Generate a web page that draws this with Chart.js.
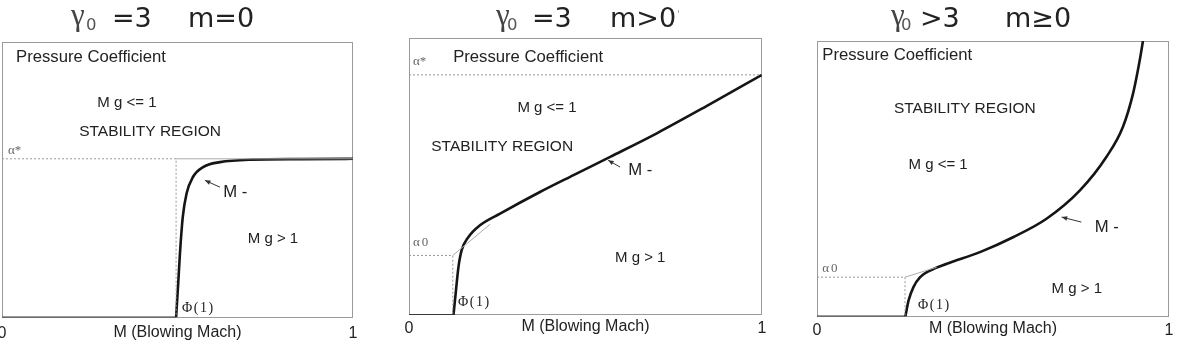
<!DOCTYPE html>
<html><head><meta charset="utf-8">
<script src="https://cdn.jsdelivr.net/npm/chart.js@4.4.1/dist/chart.umd.min.js"></script>
<style>
html,body{margin:0;padding:0;background:#fff;overflow:hidden;width:1179px;height:345px;position:relative}
canvas{position:absolute;top:0;display:block}
</style></head><body>
<canvas id="c1" width="400" height="345" style="left:-18px"></canvas>
<canvas id="c2" width="400" height="345" style="left:389px"></canvas>
<canvas id="c3" width="382" height="345" style="left:797px"></canvas>
<script>
// ---------- data ----------
const xTickValues = [0, 1];
const xTickLabels = ['0', '1'];
const xAxisTitle = 'M (Blowing Mach)';

// Panel 1 : gamma0 = 3, m = 0
const p1Title = ['γ', '0', '=3', 'm=0'];
const p1Texts = ['Pressure Coefficient', 'M g <= 1', 'STABILITY REGION', 'α*', 'M -', 'M g > 1', 'Φ(1)'];
const p1FlatX = [0, 0.496];
const p1FlatY = [0, 0];
const p1CurveX = [0.496, 0.502, 0.507, 0.515, 0.526, 0.544, 0.573, 0.621, 0.707, 0.85, 1.0];
const p1CurveY = [0, 0.124, 0.233, 0.364, 0.451, 0.510, 0.546, 0.564, 0.573, 0.575, 0.576];
const p1AlphaStar = 0.576;
const p1Phi = 0.496;

// Panel 2 : gamma0 = 3, m > 0
const p2Title = ['γ', '0', '=3', 'm>0', "'"];
const p2Texts = ['Pressure Coefficient', 'M g <= 1', 'STABILITY REGION', 'α*', 'M -', 'M g > 1', 'Φ(1)', 'α0'];
const p2FlatX = [0, 0.126];
const p2FlatY = [0, 0];
const p2CurveX = [0.126, 0.133, 0.140, 0.149, 0.168, 0.201, 0.258, 0.371, 0.466, 0.570, 0.702, 0.844, 1.0];
const p2CurveY = [0, 0.088, 0.172, 0.233, 0.281, 0.324, 0.366, 0.444, 0.505, 0.571, 0.656, 0.755, 0.867];
const p2AlphaStar = 0.867;
const p2Alpha0 = 0.215;
const p2Phi = 0.124;
const p2AsymX = [0.124, 0.23];
const p2AsymY = [0.215, 0.328];

// Panel 3 : gamma0 > 3, m >= 0
const p3Title = ['γ', '0', '>3', 'm≥0'];
const p3Texts = ['Pressure Coefficient', 'M g <= 1', 'STABILITY REGION', 'M -', 'M g > 1', 'Φ(1)', 'α0'];
const p3FlatX = [0, 0.251];
const p3FlatY = [0, 0];
const p3CurveX = [0.251, 0.260, 0.274, 0.293, 0.321, 0.369, 0.463, 0.557, 0.652, 0.747, 0.822, 0.869, 0.898, 0.917, 0.926];
const p3CurveY = [0, 0.058, 0.107, 0.143, 0.167, 0.192, 0.234, 0.288, 0.355, 0.458, 0.579, 0.688, 0.810, 0.931, 1.0];
const p3Alpha0 = 0.143;
const p3Phi = 0.25;
const p3AsymX = [0.25, 0.34];
const p3AsymY = [0.143, 0.179];

// ---------- styles / layout ----------
const SANS = '"Liberation Sans", Arial, sans-serif';
const SERIF = '"Liberation Serif", "Times New Roman", serif';
const DJ = '"DejaVu Sans", sans-serif';
const F_MAIN = '16.7px ' + SANS;
const F_STAB = '15.5px ' + SANS;
const F_MG = '15px ' + SANS;
const F_GREEK = '13px ' + SERIF;
const F_PHI = '14px ' + SERIF;

function titleLayout(pageLeft, gx, sx, ax, bx, base) {
  return [
    {x: gx - pageLeft, y: base - 2, font: '31px ' + SERIF, color: '#444'},
    {x: sx - pageLeft, y: base + 3, font: '16.5px ' + DJ, color: '#555'},
    {x: ax - pageLeft, y: base, font: '27px ' + DJ, color: '#222'},
    {x: bx - pageLeft, y: base, font: '27px ' + DJ, color: '#222'},
    {x: bx + 67 - pageLeft, y: base - 9, font: '10px ' + DJ, color: '#999'}
  ];
}

const layouts = {
  c1: {
    padding: {left: 20, right: 29, top: 42, bottom: 2.8}, tickPad: 6,
    title: titleLayout(-18, 71, 86, 112, 188, 27),
    texts: [
      {x: 0.040, y: 0.945, align: 'left', font: F_MAIN},
      {x: 0.356, y: 0.778, align: 'center', font: F_MG},
      {x: 0.422, y: 0.673, align: 'center', font: F_STAB},
      {x: 0.017, y: 0.607, align: 'left', font: F_GREEK, color: '#666'},
      {x: 0.630, y: 0.455, align: 'left', font: F_MAIN},
      {x: 0.772, y: 0.287, align: 'center', font: F_MG},
      {x: 0.513, y: 0.033, align: 'left', font: F_PHI, spacing: 1.5}
    ],
    arrow: {x1: 0.621, y1: 0.473, x2: 0.578, y2: 0.498}
  },
  c2: {
    padding: {left: 20, right: 27, top: 38, bottom: 9.3}, tickPad: 4,
    title: titleLayout(389, 496, 507, 532, 610, 27),
    texts: [
      {x: 0.125, y: 0.929, align: 'left', font: F_MAIN},
      {x: 0.391, y: 0.747, align: 'center', font: F_MG},
      {x: 0.264, y: 0.606, align: 'center', font: F_STAB},
      {x: 0.011, y: 0.914, align: 'left', font: F_GREEK, color: '#666'},
      {x: 0.621, y: 0.523, align: 'left', font: F_MAIN},
      {x: 0.655, y: 0.208, align: 'center', font: F_MG},
      {x: 0.139, y: 0.045, align: 'left', font: F_PHI, spacing: 1.5},
      {x: 0.011, y: 0.262, align: 'left', font: F_GREEK, color: '#666', spacing: 2}
    ],
    arrow: {x1: 0.598, y1: 0.534, x2: 0.564, y2: 0.559}
  },
  c3: {
    padding: {left: 20, right: 10, top: 41, bottom: 6.9}, tickPad: 4.4,
    title: titleLayout(797, 891, 901, 920, 1005, 27),
    texts: [
      {x: 0.015, y: 0.949, align: 'left', font: F_MAIN},
      {x: 0.344, y: 0.549, align: 'center', font: F_MG},
      {x: 0.420, y: 0.753, align: 'center', font: F_STAB},
      {x: 0.789, y: 0.324, align: 'left', font: F_MAIN},
      {x: 0.738, y: 0.102, align: 'center', font: F_MG},
      {x: 0.287, y: 0.040, align: 'left', font: F_PHI, spacing: 1.5},
      {x: 0.015, y: 0.175, align: 'left', font: F_GREEK, color: '#666', spacing: 2}
    ],
    arrow: {x1: 0.751, y1: 0.343, x2: 0.695, y2: 0.361}
  }
};

const panelData = {
  c1: {title: p1Title, texts: p1Texts},
  c2: {title: p2Title, texts: p2Texts},
  c3: {title: p3Title, texts: p3Texts}
};

function pts(xs, ys) { return xs.map((x, i) => ({x: x, y: ys[i]})); }

const decor = {
  id: 'decor',
  beforeDatasetsDraw(chart) {
    const {ctx, chartArea: a} = chart;
    ctx.save();
    ctx.strokeStyle = '#9a9a9a';
    ctx.lineWidth = 1;
    ctx.strokeRect(Math.round(a.left) + 0.5, Math.round(a.top) + 0.5,
      Math.round(a.right - a.left) - 1, Math.round(a.bottom - a.top) - 1);
    ctx.restore();
  },
  afterDraw(chart) {
    const id = chart.canvas.id;
    const lay = layouts[id], pd = panelData[id];
    const {ctx} = chart;
    const xs = chart.scales.x, ys = chart.scales.y;
    ctx.save();
    ctx.textBaseline = 'middle';
    pd.texts.forEach((t, i) => {
      const L = lay.texts[i];
      ctx.font = L.font;
      ctx.fillStyle = L.color || '#222';
      ctx.textAlign = L.align;
      ctx.letterSpacing = (L.spacing || 0) + 'px';
      ctx.fillText(t, xs.getPixelForValue(L.x), ys.getPixelForValue(L.y));
    });
    ctx.letterSpacing = '0px';
    // arrow pointing at the M- curve
    const A = lay.arrow;
    const x1 = xs.getPixelForValue(A.x1), y1 = ys.getPixelForValue(A.y1);
    const x2 = xs.getPixelForValue(A.x2), y2 = ys.getPixelForValue(A.y2);
    const ang = Math.atan2(y2 - y1, x2 - x1);
    ctx.strokeStyle = '#333'; ctx.fillStyle = '#333'; ctx.lineWidth = 1;
    ctx.beginPath(); ctx.moveTo(x1, y1); ctx.lineTo(x2, y2); ctx.stroke();
    ctx.beginPath();
    ctx.moveTo(x2, y2);
    ctx.lineTo(x2 - 6 * Math.cos(ang - 0.4), y2 - 6 * Math.sin(ang - 0.4));
    ctx.lineTo(x2 - 6 * Math.cos(ang + 0.4), y2 - 6 * Math.sin(ang + 0.4));
    ctx.closePath(); ctx.fill();
    // title
    ctx.textBaseline = 'alphabetic';
    ctx.textAlign = 'left';
    pd.title.forEach((t, i) => {
      const L = lay.title[i];
      ctx.font = L.font; ctx.fillStyle = L.color;
      ctx.fillText(t, L.x, L.y);
    });
    ctx.restore();
  }
};

function makePanel(id, d) {
  const lay = layouts[id];
  const datasets = [];
  datasets.push({data: pts(d.flatX, d.flatY), borderColor: '#3a3a3a', borderWidth: 2.2});
  d.guides.forEach(g => datasets.push({data: pts(g.x, g.y), borderColor: '#9a9a9a', borderWidth: 1, borderDash: [2, 2]}));
  d.asym.forEach(g => datasets.push({data: pts(g.x, g.y), borderColor: '#aaaaaa', borderWidth: 1}));
  datasets.push({data: pts(d.curveX, d.curveY), borderColor: '#151515', borderWidth: 2.6, cubicInterpolationMode: 'monotone'});
  new Chart(document.getElementById(id), {
    type: 'line',
    data: {datasets: datasets},
    options: {
      responsive: false, animation: false, events: [],
      layout: {padding: lay.padding},
      elements: {point: {radius: 0}, line: {tension: 0, fill: false}},
      plugins: {legend: {display: false}, tooltip: {enabled: false}, title: {display: false}},
      scales: {
        x: {
          type: 'linear', min: 0, max: 1,
          grid: {display: false, drawTicks: false}, border: {display: false},
          afterBuildTicks: s => { s.ticks = xTickValues.map(v => ({value: v})); },
          ticks: {
            padding: lay.tickPad, autoSkip: false, maxRotation: 0,
            font: {family: 'Liberation Sans', size: 16}, color: '#222',
            callback: v => xTickLabels[xTickValues.indexOf(v)]
          },
          title: {display: true, text: xAxisTitle, color: '#222',
            font: {family: 'Liberation Sans', size: 16}, padding: {top: -25.7, bottom: 0}}
        },
        y: {type: 'linear', min: 0, max: 1, display: false}
      }
    },
    plugins: [decor]
  });
}

makePanel('c1', {
  flatX: p1FlatX, flatY: p1FlatY, curveX: p1CurveX, curveY: p1CurveY,
  guides: [{x: [0, p1Phi, p1Phi], y: [p1AlphaStar, p1AlphaStar, 0]}],
  asym: [{x: [p1Phi, 1], y: [p1AlphaStar, p1AlphaStar]}]
});
makePanel('c2', {
  flatX: p2FlatX, flatY: p2FlatY, curveX: p2CurveX, curveY: p2CurveY,
  guides: [{x: [0, 1], y: [p2AlphaStar, p2AlphaStar]}, {x: [0, p2Phi, p2Phi], y: [p2Alpha0, p2Alpha0, 0]}],
  asym: [{x: p2AsymX, y: p2AsymY}]
});
makePanel('c3', {
  flatX: p3FlatX, flatY: p3FlatY, curveX: p3CurveX, curveY: p3CurveY,
  guides: [{x: [0, p3Phi, p3Phi], y: [p3Alpha0, p3Alpha0, 0]}],
  asym: [{x: p3AsymX, y: p3AsymY}]
});
</script>
</body></html>
